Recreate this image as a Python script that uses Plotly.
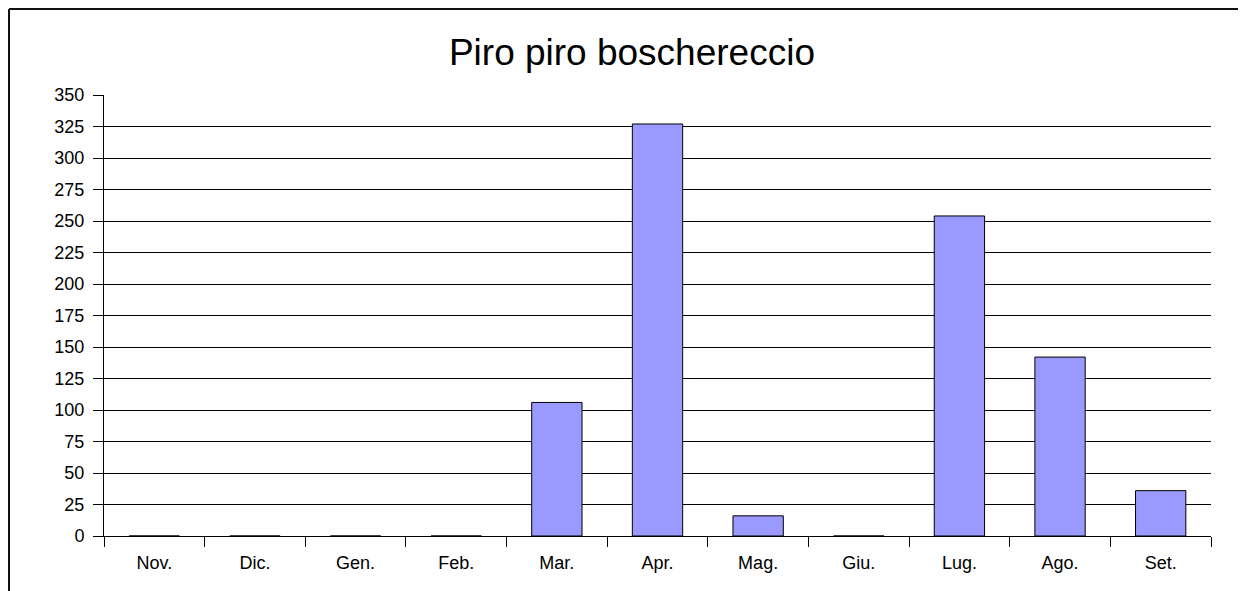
import plotly.graph_objects as go

mesi = ["Nov.", "Dic.", "Gen.", "Feb.", "Mar.", "Apr.", "Mag.", "Giu.", "Lug.", "Ago.", "Set."]
individui = [0, 0, 0, 0, 106, 327, 16, 0, 254, 142, 36]
y_ticks = list(range(0, 351, 25))

fig = go.Figure(
    go.Bar(
        x=mesi,
        y=individui,
        marker=dict(color="#9999ff", line=dict(color="#000000", width=1)),
        width=0.5,
    )
)

# la pagina aggiunge 8px di margine: figura ridotta di conseguenza
fig.update_layout(
    width=1238,
    height=583,
    paper_bgcolor="white",
    plot_bgcolor="white",
    font=dict(family="Liberation Sans, Arial, sans-serif", size=18, color="#000000"),
    title=dict(
        text="Piro piro boschereccio",
        x=0.504,
        xanchor="center",
        xref="container",
        y=0.925,
        yanchor="middle",
        yref="container",
        font=dict(size=37, color="#000000"),
    ),
    margin=dict(l=96, r=35, t=87, b=55),
    showlegend=False,
    bargap=0.5,
)

fig.update_xaxes(
    showline=True,
    linecolor="#000000",
    linewidth=1,
    ticks="outside",
    tickson="boundaries",
    ticklen=10,
    tickcolor="#000000",
    ticklabelstandoff=10,
    showgrid=False,
)
fig.update_yaxes(
    range=[0, 350],
    tickvals=y_ticks,
    showline=True,
    linecolor="#000000",
    linewidth=1,
    ticks="outside",
    ticklen=10,
    tickcolor="#000000",
    ticklabelstandoff=5,
    showgrid=True,
    gridcolor="#000000",
    gridwidth=1,
    zeroline=False,
)

# cornice esterna (solo lati superiore e sinistro visibili)
bordo_x = -95 / 1107
bordo_y = 1 + 86 / 441
fig.add_shape(type="line", xref="paper", yref="paper",
              x0=bordo_x, x1=1.1, y0=bordo_y, y1=bordo_y,
              line=dict(color="#111111", width=2))
fig.add_shape(type="line", xref="paper", yref="paper",
              x0=bordo_x, x1=bordo_x, y0=-0.2, y1=bordo_y,
              line=dict(color="#111111", width=2))

fig.write_html("out.html")
